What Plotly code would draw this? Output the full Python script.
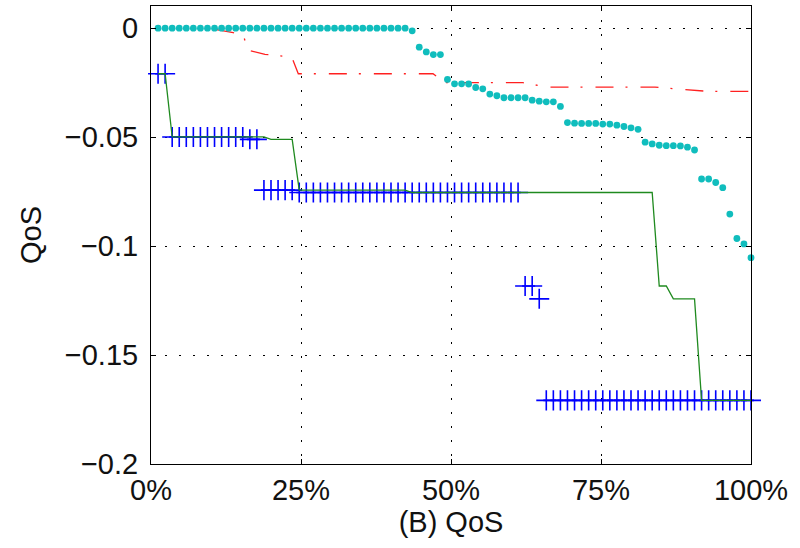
import plotly.graph_objects as go

# ---- data ----
n_points = 85
x_idx = [i / n_points for i in range(1, n_points + 1)]

cyan_vals = [
    0, 0, 0, 0, 0, 0, 0, 0, 0, 0,
    0, 0, 0, 0, 0, 0, 0, 0, 0, 0,
    0, 0, 0, 0, 0, 0, 0, 0, 0, 0,
    0, 0, 0, 0, 0, 0, -0.0012, -0.0087, -0.0109, -0.0121,
    -0.0121, -0.0235, -0.0255, -0.0255, -0.0256, -0.0272, -0.0278, -0.0302, -0.0310, -0.0319,
    -0.0319, -0.0319, -0.0319, -0.0330, -0.0335, -0.0338, -0.0338, -0.0359, -0.0433, -0.0436,
    -0.0437, -0.0437, -0.0437, -0.0440, -0.0440, -0.0445, -0.0451, -0.0457, -0.0464, -0.0523,
    -0.0531, -0.0537, -0.0539, -0.0539, -0.0540, -0.0546, -0.0559, -0.0692, -0.0692, -0.0708,
    -0.0732, -0.0853, -0.0965, -0.0990, -0.1053,
]

green_vals = [
    -0.0209, -0.0209, -0.0499, -0.0499, -0.0499, -0.0499, -0.0499, -0.0499, -0.0499, -0.0499,
    -0.0499, -0.0499, -0.0499, -0.0499, -0.0499, -0.0499, -0.0510, -0.0510, -0.0510, -0.0510,
    -0.0743, -0.0743, -0.0743, -0.0743, -0.0743, -0.0743, -0.0743, -0.0743, -0.0743, -0.0743,
    -0.0743, -0.0743, -0.0743, -0.0743, -0.0743, -0.0743, -0.0754, -0.0754, -0.0754, -0.0754,
    -0.0754, -0.0754, -0.0754, -0.0754, -0.0754, -0.0754, -0.0754, -0.0754, -0.0754, -0.0754,
    -0.0754, -0.0754, -0.0754, -0.0754, -0.0754, -0.0754, -0.0754, -0.0754, -0.0754, -0.0754,
    -0.0754, -0.0754, -0.0754, -0.0754, -0.0754, -0.0754, -0.0754, -0.0754, -0.0754, -0.0754,
    -0.0754, -0.1183, -0.1183, -0.1242, -0.1242, -0.1242, -0.1242, -0.1708, -0.1708, -0.1708,
    -0.1708, -0.1708, -0.1708, -0.1708, -0.1708,
]

blue_vals = [
    -0.0209, -0.0209, -0.0499, -0.0499, -0.0499, -0.0499, -0.0499, -0.0499, -0.0499, -0.0499,
    -0.0499, -0.0499, -0.0499, -0.0510, -0.0510, -0.0743, -0.0743, -0.0743, -0.0743, -0.0743,
    -0.0754, -0.0754, -0.0754, -0.0754, -0.0754, -0.0754, -0.0754, -0.0754, -0.0754, -0.0754,
    -0.0754, -0.0754, -0.0754, -0.0754, -0.0754, -0.0754, -0.0754, -0.0754, -0.0754, -0.0754,
    -0.0754, -0.0754, -0.0754, -0.0754, -0.0754, -0.0754, -0.0754, -0.0754, -0.0754, -0.0754,
    -0.0754, -0.0754, -0.1183, -0.1183, -0.1242, -0.1708, -0.1708, -0.1708, -0.1708, -0.1708,
    -0.1708, -0.1708, -0.1708, -0.1708, -0.1708, -0.1708, -0.1708, -0.1708, -0.1708, -0.1708,
    -0.1708, -0.1708, -0.1708, -0.1708, -0.1708, -0.1708, -0.1708, -0.1708, -0.1708, -0.1708,
    -0.1708, -0.1708, -0.1708, -0.1708, -0.1708,
]

red_x = [0.109, 0.137, 0.155, 0.162, 0.19, 0.2345, 0.2455, 0.47, 0.49, 0.62, 0.66, 0.84, 0.88, 0.93, 1.0]
red_vals = [-0.0006, -0.0020, -0.0043, -0.0101, -0.0120, -0.0132, -0.0209, -0.0209, -0.0250,
            -0.0250, -0.0270, -0.0270, -0.0280, -0.0290, -0.0290]

x_tickvals = [0, 0.25, 0.5, 0.75, 1.0]
x_ticktext = ["0%", "25%", "50%", "75%", "100%"]
y_tickvals = [-0.2, -0.15, -0.1, -0.05, 0]
y_ticktext = ["\u22120.2", "\u22120.15", "\u22120.1", "\u22120.05", "0"]

# ---- figure ----
FONT = "Liberation Sans, Arial, Helvetica, sans-serif"
fig = go.Figure()

fig.add_trace(go.Scatter(
    x=x_idx, y=blue_vals, mode="markers", cliponaxis=False,
    marker=dict(symbol="cross-thin", size=14.3, color="#0000FF",
                line=dict(color="#0000FF", width=1.6)),
    showlegend=False, hoverinfo="skip"))

fig.add_trace(go.Scatter(
    x=x_idx, y=green_vals, mode="lines",
    line=dict(color="#1f8a1f", width=1.3),
    showlegend=False, hoverinfo="skip"))

fig.add_trace(go.Scatter(
    x=red_x, y=red_vals, mode="lines",
    line=dict(color="#FF2020", width=1.3, dash="18px,12px,2px,13px"),
    showlegend=False, hoverinfo="skip"))

fig.add_trace(go.Scatter(
    x=x_idx, y=cyan_vals, mode="markers", cliponaxis=False,
    marker=dict(symbol="circle", size=6.8, color="#10BDBD", line=dict(width=0)),
    showlegend=False, hoverinfo="skip"))

axis_common = dict(
    showline=True, linecolor="#000000", linewidth=1, mirror="ticks",
    ticks="inside", ticklen=5, tickcolor="#000000", tickwidth=1,
    showgrid=True, gridcolor="#000000", gridwidth=1, griddash="2px,12px",
    zeroline=False,
    tickfont=dict(family=FONT, size=29, color="#111111"),
)

fig.update_xaxes(
    range=[0, 1], tickvals=x_tickvals, ticktext=x_ticktext,
    title=dict(text="(B) QoS", font=dict(family=FONT, size=29, color="#111111"), standoff=4),
    **axis_common)
fig.update_yaxes(
    range=[-0.2, 0.0102], tickvals=y_tickvals, ticktext=y_ticktext,
    title=dict(text="QoS", font=dict(family=FONT, size=29, color="#111111"), standoff=14),
    ticklabelstandoff=6,
    **axis_common)

fig.update_layout(
    width=800, height=548,
    margin=dict(l=151, r=49, t=6, b=84, autoexpand=False),
    plot_bgcolor="white", paper_bgcolor="white",
    font=dict(family=FONT),
)

fig.write_html("out.html")
